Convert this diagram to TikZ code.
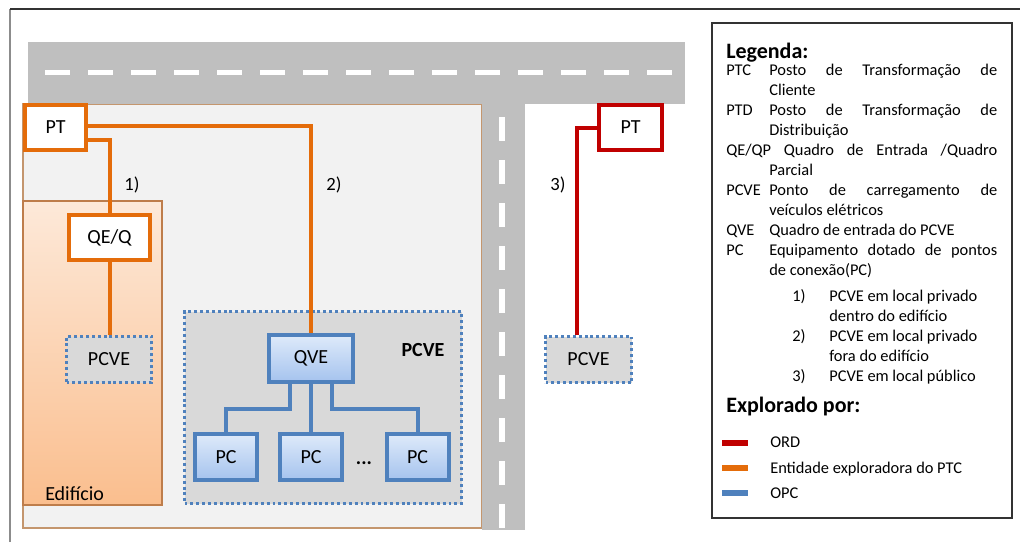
\documentclass[tikz,border=0pt]{standalone}
\usepackage{fontspec}
\setmainfont{Carlito}
\usetikzlibrary{positioning}

\definecolor{ordred}{RGB}{192,0,0}
\definecolor{ptcorange}{RGB}{228,108,10}
\definecolor{opcblue}{RGB}{79,129,189}
\definecolor{roadgray}{RGB}{191,191,191}
\definecolor{lotgray}{RGB}{242,242,242}
\definecolor{lotline}{RGB}{196,150,110}
\definecolor{pcvegray}{RGB}{217,217,217}
\definecolor{bldtop}{RGB}{253,233,217}
\definecolor{bldbot}{RGB}{250,190,142}
\definecolor{bldline}{RGB}{190,125,75}
\definecolor{qvetop}{RGB}{222,234,250}
\definecolor{qvebot}{RGB}{165,195,238}

\tikzset{
  box/.style={draw, line width=3pt, fill=white, inner sep=0pt, font=\fontsize{15}{18}\selectfont},
  ptcbox/.style={box, draw=ptcorange},
  ordbox/.style={box, draw=ordred},
  opcbox/.style={box, draw=opcblue, top color=qvetop, bottom color=qvebot, minimum width=46.5pt, minimum height=34.5pt},
  pcvebox/.style={draw=opcblue, fill=pcvegray, line width=2.2pt, dash pattern=on 2.2pt off 2.2pt, inner sep=0pt, font=\fontsize{15}{18}\selectfont},
  ptcline/.style={draw=ptcorange, line width=3pt},
  opcline/.style={draw=opcblue, line width=3pt},
  ordline/.style={draw=ordred, line width=3pt},
  lbl/.style={inner sep=0pt, font=\fontsize{14}{16}\selectfont},
  leg/.style={anchor=base west, inner sep=0pt, font=\fontsize{12.3}{14}\selectfont},
  leghead/.style={anchor=base west, inner sep=0pt, font=\fontsize{16.5}{19}\selectfont\bfseries}
}

\begin{document}
\begin{tikzpicture}[x=0.75pt, y=-0.75pt]
\useasboundingbox (0,0) rectangle (1023,542);

% frame
\draw[black!45, line width=1.5pt] (10,542) -- (10,9);
\draw[black!80, line width=1.2pt] (10,9) -- (1020,9);

% private lot and building
\filldraw[fill=lotgray, draw=lotline, line width=1pt] (23,104) rectangle (482,528);
\draw[bldline, line width=1pt, top color=bldtop, bottom color=bldbot] (23,201) rectangle (162,505);
\node[anchor=base west, inner sep=0pt, font=\fontsize{15}{18}\selectfont] (edif) at (45,500) {Edifício};

% roads
\fill[roadgray] (28,42) rectangle (685,104);
\fill[roadgray] (482,104) rectangle (525,530);
\foreach \i in {0,...,14}
  \fill[white] ({45+43*\i},70) rectangle ++(25,5);
\foreach \i in {0,...,9}
  \fill[white] (499,{117+43*\i}) rectangle ++(6,24);

% 1) inside the building
\node[ptcbox, minimum width=45.75pt, minimum height=33.75pt] (ptc) at (55.5,127.5) {PT};
\node[ptcbox, minimum width=60.75pt, minimum height=33.75pt] (qeq) at (109.5,237.5) {QE/Q};
\node[pcvebox, minimum width=63.75pt, minimum height=34.5pt] (pcvea) at (109,359.5) {PCVE};
\draw[ptcline] ([yshift=-9.4pt]ptc.east) -| (qeq.north);
\draw[ptcline] (qeq.south) -- (qeq.south |- pcvea.north);
\node[lbl] (n1) at (132,185) {1)};

% 2) private, outside the building
\node[pcvebox, minimum width=207.75pt, minimum height=144pt] (pcveb) at (323,407.5) {};
\node[inner sep=0pt, font=\fontsize{15}{18}\selectfont\bfseries] (pcvebl) at (423,350) {PCVE};
\node[opcbox, minimum width=63pt, minimum height=35.25pt] (qve) at (311,358.5) {QVE};
\node[opcbox] (pc1) at (226,457) {PC};
\node[opcbox] (pc2) at (311,457) {PC};
\node[opcbox] (pc3) at (417.5,457) {PC};
\node[inner sep=0pt, font=\fontsize{15}{18}\selectfont\bfseries] (dots) at (364,463) {...};
\draw[ptcline] ([yshift=1pt]ptc.east) -| (qve.north);
\draw[opcline] ([xshift=-15.75pt]qve.south) -- ++(0,25) -| (pc1.north);
\draw[opcline] (qve.south) -- (pc2.north);
\draw[opcline] ([xshift=15.75pt]qve.south) -- ++(0,25) -| (pc3.north);
\node[lbl] (n2) at (334,185) {2)};

% 3) public place
\node[ordbox, minimum width=47.25pt, minimum height=33.75pt] (ptd) at (630.5,127.5) {PT};
\node[pcvebox, minimum width=64.5pt, minimum height=34.5pt] (pcvec) at (588.5,359.5) {PCVE};
\draw[ordline] (ptd.west) -| ([xshift=-8.6pt]pcvec.north);
\node[lbl] (n3) at (558,185) {3)};

% legend
\draw[black!80, line width=1.2pt] (712,23) rectangle (1012,518);
\node[leghead] (lgd) at (726,59) {Legenda:};
\node[leg] (k1) at (726,75) {PTC};
\node[leg] (d1) at (769,75) {\makebox[171pt][s]{Posto de Transformação de}};
\node[leg] (d1b) at (769,95) {Cliente};
\node[leg] (k2) at (726,115) {PTD};
\node[leg] (d2) at (769,115) {\makebox[171pt][s]{Posto de Transformação de}};
\node[leg] (d2b) at (769,135) {Distribuição};
\node[leg] (d3) at (726,155) {\makebox[203.25pt][s]{QE/QP Quadro de Entrada /Quadro}};
\node[leg] (d3b) at (769,175) {Parcial};
\node[leg] (k4) at (726,195) {PCVE};
\node[leg] (d4) at (769,195) {\makebox[171pt][s]{Ponto de carregamento de}};
\node[leg] (d4b) at (769,215) {veículos elétricos};
\node[leg] (k5) at (726,235) {QVE};
\node[leg] (d5) at (769,235) {Quadro de entrada do PCVE};
\node[leg] (k6) at (726,255) {PC};
\node[leg] (d6) at (769,255) {\makebox[171pt][s]{Equipamento dotado de pontos}};
\node[leg] (d6b) at (769,275) {de conexão(PC)};
\node[leg] (i1) at (792,301) {1)};
\node[leg] (t1) at (829,301) {PCVE em local privado};
\node[leg] (t1b) at (829,321) {dentro do edifício};
\node[leg] (i2) at (792,341) {2)};
\node[leg] (t2) at (829,341) {PCVE em local privado};
\node[leg] (t2b) at (829,361) {fora do edifício};
\node[leg] (i3) at (792,381) {3)};
\node[leg] (t3) at (829,381) {PCVE em local público};
\node[leghead] (expl) at (726,412) {Explorado por:};
\draw[ordred, line width=4.5pt] (722,443) -- (748,443);
\draw[ptcorange, line width=4.5pt] (722,468) -- (748,468);
\draw[opcblue, line width=4.5pt] (722,493) -- (748,493);
\node[leg] (e1) at (770,447) {ORD};
\node[leg] (e2) at (770,473) {Entidade exploradora do PTC};
\node[leg] (e3) at (770,498) {OPC};
\end{tikzpicture}
\end{document}
